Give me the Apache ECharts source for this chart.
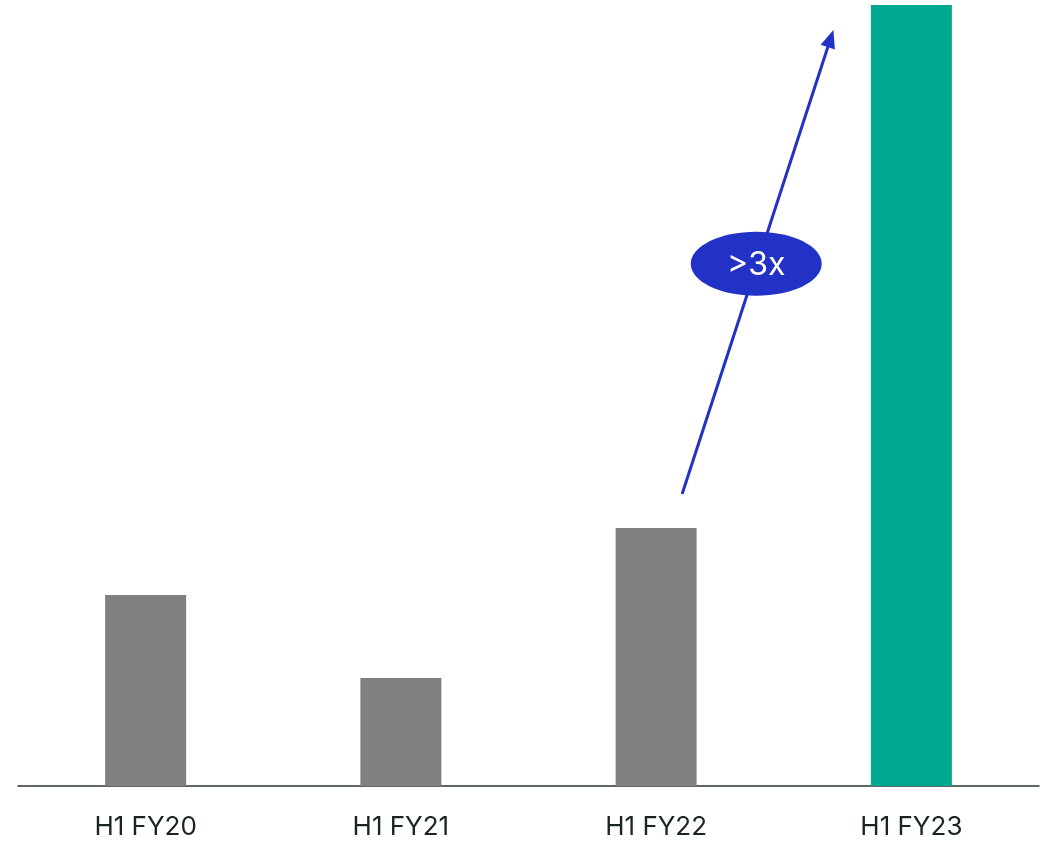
<!DOCTYPE html>
<html>
<head>
<meta charset="utf-8">
<style>
  html, body { margin: 0; padding: 0; background: #ffffff; }
  #chart { width: 1045px; height: 841px; }
</style>
<script src="https://cdn.jsdelivr.net/npm/echarts@6/dist/echarts.min.js"></script>
</head>
<body>
<div id="chart"></div>
<script>
// Half-year periods and their values
const categories = ['H1 FY20', 'H1 FY21', 'H1 FY22', 'H1 FY23'];
const values = [191, 108, 258, 781];
const barColors = ['#808080', '#808080', '#808080', '#00a88f'];
const growthLabel = '>3x';

const accent = '#2332c6';
const chart = echarts.init(document.getElementById('chart'));

chart.setOption({
  animation: false,
  grid: { left: 18, right: 6, top: 5, bottom: 55 },
  xAxis: {
    type: 'category',
    data: categories,
    axisLine: { lineStyle: { color: '#2b3535', width: 1.5 } },
    axisTick: { show: false },
    axisLabel: {
      color: '#1a2424',
      fontFamily: 'Inter, "Noto Sans", sans-serif',
      fontSize: 26,
      margin: 28
    }
  },
  yAxis: {
    type: 'value',
    min: 0,
    max: 781,
    show: false,
    splitLine: { show: false }
  },
  series: [{
    type: 'bar',
    barWidth: 81,
    data: values.map((v, i) => ({ value: v, itemStyle: { color: barColors[i] } }))
  }]
});

// Growth arrow from above the FY22 bar towards the top of the FY23 bar
function drawAnnotation() {
  const p0 = chart.convertToPixel({ seriesIndex: 0 }, [2, values[2]]);
  const p1 = chart.convertToPixel({ seriesIndex: 0 }, [3, values[3]]);
  const start = [p0[0] + 26, p0[1] - 34];
  const tip = [p1[0] - 78, p1[1] + 25];
  const dx = tip[0] - start[0], dy = tip[1] - start[1];
  const len = Math.sqrt(dx * dx + dy * dy);
  const ux = dx / len, uy = dy / len;
  const headLen = 18, headHalf = 7.5;
  const base = [tip[0] - ux * headLen, tip[1] - uy * headLen];
  const nx = -uy, ny = ux;
  const lineEnd = [tip[0] - ux * (headLen - 2), tip[1] - uy * (headLen - 2)];
  const t = 0.49;
  const mid = [start[0] + dx * t, start[1] + dy * t];

  chart.setOption({
    graphic: [
      {
        type: 'line',
        shape: { x1: start[0], y1: start[1], x2: lineEnd[0], y2: lineEnd[1] },
        style: { stroke: accent, lineWidth: 3 },
        z: 10
      },
      {
        type: 'polygon',
        shape: {
          points: [
            tip,
            [base[0] + nx * headHalf, base[1] + ny * headHalf],
            [base[0] - nx * headHalf, base[1] - ny * headHalf]
          ]
        },
        style: { fill: accent },
        z: 10
      },
      {
        type: 'ellipse',
        shape: { cx: mid[0], cy: mid[1] - 3, rx: 65.5, ry: 32 },
        style: { fill: accent },
        z: 11
      },
      {
        type: 'text',
        x: mid[0],
        y: mid[1] - 1,
        style: {
          text: growthLabel,
          fill: '#ffffff',
          fontFamily: 'Inter, "Noto Sans", sans-serif',
          fontSize: 32,
          align: 'center',
          verticalAlign: 'middle'
        },
        z: 12
      }
    ]
  });
}
drawAnnotation();
</script>
</body>
</html>
